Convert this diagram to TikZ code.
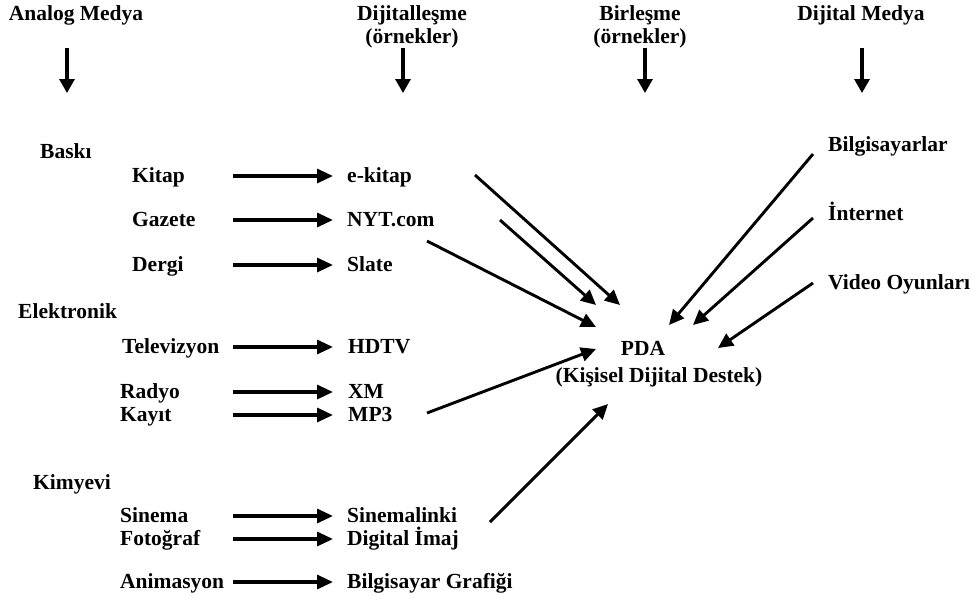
\documentclass[tikz,border=0pt]{standalone}
\usepackage{fontspec}
\setmainfont{Liberation Serif}
\usetikzlibrary{arrows.meta,calc}
\begin{document}
\begin{tikzpicture}[x=1pt,y=-1pt,
  txt/.style={font=\fontsize{21.5}{23}\selectfont\bfseries, inner sep=0pt},
  lbl/.style={txt, text height=13pt, text depth=0pt, anchor=west},
  head/.style={txt, align=center},
  hconn/.style={line width=3.2pt, -{Triangle[length=16pt,width=14pt]}},
  dconn/.style={line width=2.9pt, -{Triangle[length=15pt,width=14pt]}},
  vconn/.style={line width=3.2pt, -{Triangle[length=14pt,width=15pt]}}]
\useasboundingbox (0,0) rectangle (977,598);

% column headings
\node[head] (analog) at (76,15) {Analog Medya};
\node[head] (dijitalles) at (412,27) {Dijitalleşme\\(örnekler)};
\node[head] (birlesme) at (640,27) {Birleşme\\(örnekler)};
\node[head] (dijitalmedya) at (861,15) {Dijital Medya};

\foreach \n/\x in {a/67, b/403, c/645, d/862} {
  \coordinate (\n top) at (\x,48);
  \coordinate (\n bot) at (\x,93);
  \draw[vconn] (\n top) -- (\n bot);
}

% analog media
\node[lbl] (baski) at (40,152) {Baskı};
\node[lbl] (kitap) at (132,176) {Kitap};
\node[lbl] (gazete) at (132,220) {Gazete};
\node[lbl] (dergi) at (132,265) {Dergi};
\node[lbl] (elektronik) at (18,312) {Elektronik};
\node[lbl] (televizyon) at (122,347) {Televizyon};
\node[lbl] (radyo) at (120,392) {Radyo};
\node[lbl] (kayit) at (120,415) {Kayıt};
\node[lbl] (kimyevi) at (33,483) {Kimyevi};
\node[lbl] (sinema) at (120,516) {Sinema};
\node[lbl] (fotograf) at (120,539) {Fotoğraf};
\node[lbl] (animasyon) at (120,582) {Animasyon};

% digitised examples
\node[lbl] (ekitap) at (347,176) {e-kitap};
\node[lbl] (nyt) at (347,220) {NYT.com};
\node[lbl] (slate) at (347,265) {Slate};
\node[lbl] (hdtv) at (348,347) {HDTV};
\node[lbl] (xm) at (348,392) {XM};
\node[lbl] (mp3) at (348,415) {MP3};
\node[lbl] (sinemalinki) at (347,516) {Sinemalinki};
\node[lbl] (imaj) at (347,539) {Digital İmaj};
\node[lbl] (grafik) at (347,582) {Bilgisayar Grafiği};

% digital media
\node[lbl] (bilgisayarlar) at (828,145) {Bilgisayarlar};
\node[lbl] (internet) at (828,214) {İnternet};
\node[lbl] (video) at (828,283) {Video Oyunları};

% convergence
\node[txt] (pda) at (643,348) {PDA};
\node[txt] (pdadesc) at (659,377) {(Kişisel Dijital Destek)};

% analog -> digital arrows
\coordinate (hs) at (233,0);
\coordinate (he) at (333,0);
\foreach \a/\b in {kitap/ekitap, gazete/nyt, dergi/slate, televizyon/hdtv,
                   radyo/xm, kayit/mp3, sinema/sinemalinki, fotograf/imaj,
                   animasyon/grafik}
  \draw[hconn] (\a -| hs) -- (\b -| he);

% arrows into the PDA
\coordinate (s1) at (475,175);  \coordinate (t1) at (620,305);
\coordinate (s2) at (500,220);  \coordinate (t2) at (596,305);
\coordinate (s3) at (427,241);  \coordinate (t3) at (596,327);
\coordinate (s4) at (427,413);  \coordinate (t4) at (596,349);
\coordinate (s5) at (490,522);  \coordinate (t5) at (608,404);
\coordinate (s6) at (813,154);  \coordinate (t6) at (669,325);
\coordinate (s7) at (813,218);  \coordinate (t7) at (693,325);
\coordinate (s8) at (813,283);  \coordinate (t8) at (718,348);
\foreach \i in {1,...,8}
  \draw[dconn] (s\i) -- (t\i);
\end{tikzpicture}
\end{document}
